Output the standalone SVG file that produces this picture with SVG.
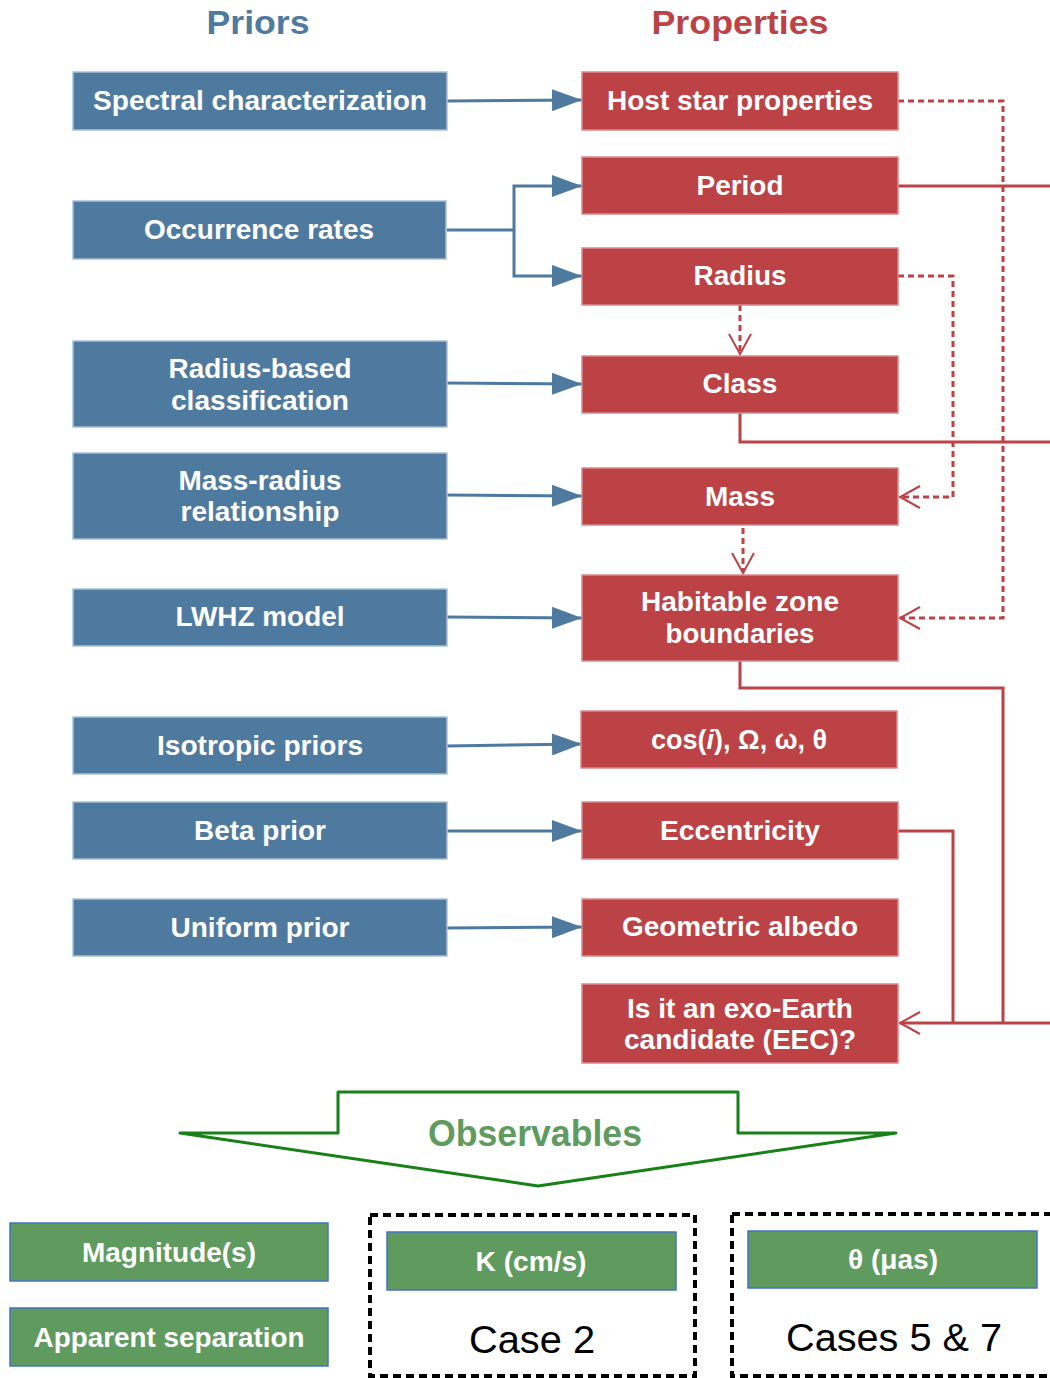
<svg xmlns="http://www.w3.org/2000/svg" width="1050" height="1378" viewBox="0 0 1050 1378">
<style>
.t{font-family:"Liberation Sans",Arial,sans-serif;font-weight:bold;text-anchor:middle;fill:#fff;font-size:27px}
.blue{fill:#4f7aa0;stroke:#a9c0d8;stroke-width:1.5}
.red{fill:#bc4245;stroke:#d98a8c;stroke-width:1.5}
.green{fill:#5f9b5f;stroke:#4472c4;stroke-width:1.5}
.bl{stroke:#4f7aa0;stroke-width:3;fill:none}
.rl{stroke:#bc4245;stroke-width:3;fill:none}
.rd{stroke:#bc4245;stroke-width:3;fill:none;stroke-dasharray:6,4}
.case{font-family:"Liberation Sans",Arial,sans-serif;font-size:38px;text-anchor:middle;fill:#000}
</style>
<defs>
<marker id="fb" markerWidth="30" markerHeight="22" refX="30" refY="11" orient="auto" markerUnits="userSpaceOnUse">
<path d="M0,0 L30,11 L0,22 Z" fill="#4f7aa0"/>
</marker>
<marker id="or" markerWidth="24" markerHeight="26" refX="22" refY="13" orient="auto" markerUnits="userSpaceOnUse">
<path d="M2,2 L22,13 L2,24" fill="none" stroke="#bc4245" stroke-width="2"/>
</marker>
</defs>

<text x="258" y="34" style="font-family:'Liberation Sans',Arial,sans-serif;font-weight:bold;font-size:34px;text-anchor:middle;fill:#4f7aa0" textLength="103" lengthAdjust="spacingAndGlyphs">Priors</text>
<text x="740" y="34" style="font-family:'Liberation Sans',Arial,sans-serif;font-weight:bold;font-size:34px;text-anchor:middle;fill:#bc4245" textLength="177" lengthAdjust="spacingAndGlyphs">Properties</text>

<g id="connectors">
<path class="bl" d="M447,101 L582,100" marker-end="url(#fb)"/>
<path class="bl" d="M447,230 L514,230 L514,186 L582,186" marker-end="url(#fb)"/>
<path class="bl" d="M514,230 L514,276 L582,276" marker-end="url(#fb)"/>
<path class="bl" d="M447,383 L582,384" marker-end="url(#fb)"/>
<path class="bl" d="M447,495 L582,496" marker-end="url(#fb)"/>
<path class="bl" d="M447,617 L582,618" marker-end="url(#fb)"/>
<path class="bl" d="M447,746 L582,744" marker-end="url(#fb)"/>
<path class="bl" d="M447,831 L582,831" marker-end="url(#fb)"/>
<path class="bl" d="M447,928 L582,927" marker-end="url(#fb)"/>

<path class="rd" d="M898,101 L1003,101 L1003,618 L900,618" marker-end="url(#or)"/>
<path class="rd" d="M898,276 L953,276 L953,497 L900,497" marker-end="url(#or)"/>
<path class="rd" d="M740,305 L740,354" marker-end="url(#or)"/>
<path class="rd" d="M743,528 L743,573" marker-end="url(#or)"/>
<path class="rl" d="M898,186 L1050,186"/>
<path class="rl" d="M740,413 L740,442 L1050,442"/>
<path class="rl" d="M740,661 L740,688 L1003,688 L1003,1023"/>
<path class="rl" d="M898,831 L953,831 L953,1023"/>
<path class="rl" d="M1050,1023 L900,1023" marker-end="url(#or)"/>
</g>

<g id="prior-spectral"><rect class="blue" x="73" y="72" width="374" height="58"/><text class="t" x="260" y="110" textLength="334" lengthAdjust="spacingAndGlyphs">Spectral characterization</text></g>
<g id="prior-occurrence"><rect class="blue" x="73" y="201" width="373" height="58"/><text class="t" x="259" y="239" textLength="230" lengthAdjust="spacingAndGlyphs">Occurrence rates</text></g>
<g id="prior-radius"><rect class="blue" x="73" y="341" width="374" height="86"/><text class="t" x="260" y="378" textLength="183" lengthAdjust="spacingAndGlyphs">Radius-based</text><text class="t" x="260" y="410" textLength="178" lengthAdjust="spacingAndGlyphs">classification</text></g>
<g id="prior-massradius"><rect class="blue" x="73" y="453" width="374" height="86"/><text class="t" x="260" y="490" textLength="163" lengthAdjust="spacingAndGlyphs">Mass-radius</text><text class="t" x="260" y="521" textLength="159" lengthAdjust="spacingAndGlyphs">relationship</text></g>
<g id="prior-lwhz"><rect class="blue" x="73" y="589" width="374" height="57"/><text class="t" x="260" y="626" textLength="169" lengthAdjust="spacingAndGlyphs">LWHZ model</text></g>
<g id="prior-isotropic"><rect class="blue" x="73" y="717" width="374" height="57"/><text class="t" x="260" y="755" textLength="206" lengthAdjust="spacingAndGlyphs">Isotropic priors</text></g>
<g id="prior-beta"><rect class="blue" x="73" y="802" width="374" height="57"/><text class="t" x="260" y="840" textLength="132" lengthAdjust="spacingAndGlyphs">Beta prior</text></g>
<g id="prior-uniform"><rect class="blue" x="73" y="899" width="374" height="57"/><text class="t" x="260" y="937" textLength="179" lengthAdjust="spacingAndGlyphs">Uniform prior</text></g>

<g id="prop-host"><rect class="red" x="582" y="72" width="316" height="58"/><text class="t" x="740" y="110" textLength="266" lengthAdjust="spacingAndGlyphs">Host star properties</text></g>
<g id="prop-period"><rect class="red" x="582" y="157" width="316" height="57"/><text class="t" x="740" y="195" textLength="87" lengthAdjust="spacingAndGlyphs">Period</text></g>
<g id="prop-radius"><rect class="red" x="582" y="248" width="316" height="57"/><text class="t" x="740" y="285" textLength="93" lengthAdjust="spacingAndGlyphs">Radius</text></g>
<g id="prop-class"><rect class="red" x="582" y="356" width="316" height="57"/><text class="t" x="740" y="393" textLength="75" lengthAdjust="spacingAndGlyphs">Class</text></g>
<g id="prop-mass"><rect class="red" x="582" y="468" width="316" height="57"/><text class="t" x="740" y="506" textLength="70" lengthAdjust="spacingAndGlyphs">Mass</text></g>
<g id="prop-hz"><rect class="red" x="582" y="575" width="316" height="86"/><text class="t" x="740" y="611" textLength="198" lengthAdjust="spacingAndGlyphs">Habitable zone</text><text class="t" x="740" y="643" textLength="149" lengthAdjust="spacingAndGlyphs">boundaries</text></g>
<g id="prop-angles"><rect class="red" x="581" y="711" width="316" height="57"/><text class="t" x="739" y="749">cos(<tspan font-style="italic">i</tspan>), Ω, ω, θ</text></g>
<g id="prop-ecc"><rect class="red" x="582" y="802" width="316" height="57"/><text class="t" x="740" y="840" textLength="160" lengthAdjust="spacingAndGlyphs">Eccentricity</text></g>
<g id="prop-albedo"><rect class="red" x="582" y="899" width="316" height="57"/><text class="t" x="740" y="936" textLength="236" lengthAdjust="spacingAndGlyphs">Geometric albedo</text></g>
<g id="prop-eec"><rect class="red" x="582" y="984" width="316" height="79"/><text class="t" x="740" y="1018" textLength="226" lengthAdjust="spacingAndGlyphs">Is it an exo-Earth</text><text class="t" x="740" y="1049" textLength="232" lengthAdjust="spacingAndGlyphs">candidate (EEC)?</text></g>

<g id="observables">
<path d="M180,1133 L338,1133 L338,1092 L738,1092 L738,1133 L896,1133 L538,1186 Z" fill="#fff" stroke="#178017" stroke-width="3" stroke-linejoin="round"/>
<text x="535" y="1146" style="font-family:'Liberation Sans',Arial,sans-serif;font-weight:bold;font-size:36px;text-anchor:middle;fill:#5f9b5f" textLength="214" lengthAdjust="spacingAndGlyphs">Observables</text>
</g>

<g id="obs-magnitude"><rect class="green" x="10" y="1223" width="318" height="58"/><text class="t" x="169" y="1262" textLength="174" lengthAdjust="spacingAndGlyphs">Magnitude(s)</text></g>
<g id="obs-separation"><rect class="green" x="10" y="1308" width="318" height="58"/><text class="t" x="169" y="1347" textLength="271" lengthAdjust="spacingAndGlyphs">Apparent separation</text></g>

<g id="case2">
<rect x="370" y="1215" width="325" height="161" fill="none" stroke="#000" stroke-width="4" stroke-dasharray="8,5"/>
<rect class="green" x="387" y="1232" width="289" height="58"/>
<text class="t" x="531" y="1271" textLength="111" lengthAdjust="spacingAndGlyphs">K (cm/s)</text>
<text class="case" x="532" y="1353" textLength="126" lengthAdjust="spacingAndGlyphs">Case 2</text>
</g>
<g id="case57">
<rect x="732" y="1214" width="330" height="162" fill="none" stroke="#000" stroke-width="4" stroke-dasharray="8,5"/>
<rect class="green" x="748" y="1231" width="289" height="57"/>
<text class="t" x="893" y="1269" textLength="90" lengthAdjust="spacingAndGlyphs">θ (μas)</text>
<text class="case" x="894" y="1351" textLength="216" lengthAdjust="spacingAndGlyphs">Cases 5 &amp; 7</text>
</g>
</svg>
